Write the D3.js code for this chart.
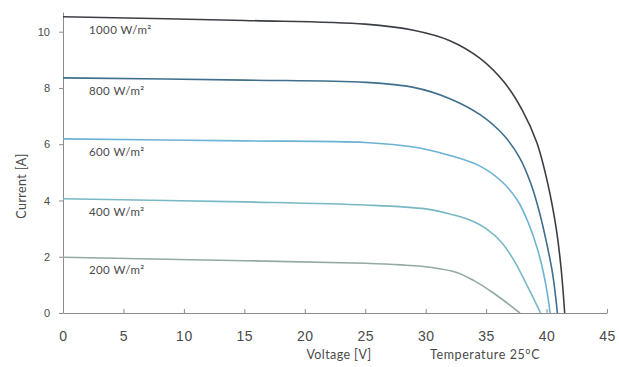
<!DOCTYPE html>
<html>
<head>
<meta charset="utf-8">
<script src="https://cdn.jsdelivr.net/npm/d3@7"></script>
<style>
  html, body { margin: 0; padding: 0; background: #fff; }
  svg { display: block; font-family: Lato, "Open Sans", sans-serif; }
</style>
</head>
<body>
<svg id="chart" width="619" height="367"></svg>
<script>
// ---- data ----
const xTicks = [0, 5, 10, 15, 20, 25, 30, 35, 40, 45];
const yTicks = [0, 2, 4, 6, 8, 10];

const irradiance = ["1000 W/m²", "800 W/m²", "600 W/m²", "400 W/m²", "200 W/m²"];

const voltage1000 = [0, 15, 25, 29, 32, 34.5, 36.5, 38, 39.2, 40.1, 40.8, 41.2, 41.5];
const current1000 = [10.53, 10.4, 10.27, 10.05, 9.68, 9.05, 8.2, 7.2, 6.05, 4.6, 3.0, 1.6, 0];

const voltage800 = [0, 15, 25, 29, 32, 34.5, 36.5, 37.8, 38.7, 39.4, 40.0, 40.5, 40.9];
const current800 = [8.36, 8.28, 8.2, 8.02, 7.62, 7.05, 6.3, 5.5, 4.6, 3.6, 2.5, 1.4, 0];

const voltage600 = [0, 15, 25, 29, 32, 34.5, 36.4, 37.6, 38.5, 39.3, 39.9, 40.3];
const current600 = [6.19, 6.12, 6.06, 5.9, 5.6, 5.22, 4.63, 4.0, 3.2, 2.2, 1.1, 0];

const voltage400 = [0, 15, 25, 30, 32, 33.5, 35, 36.3, 37.4, 38.3, 39, 39.5];
const current400 = [4.06, 3.95, 3.84, 3.7, 3.52, 3.33, 3.0, 2.5, 1.8, 1.05, 0.45, 0];

const voltage200 = [0, 15, 25, 28, 30.5, 32.5, 34, 35.3, 36.6, 37.8];
const current200 = [1.98, 1.86, 1.77, 1.71, 1.62, 1.45, 1.15, 0.8, 0.4, 0];

const seriesColors = ["#3b3f44", "#3f6f8c", "#6cb2d4", "#78b8c4", "#93aaa2"];

// ---- build series ----
const series = [
  {label: irradiance[0], v: voltage1000, i: current1000, color: seriesColors[0]},
  {label: irradiance[1], v: voltage800,  i: current800,  color: seriesColors[1]},
  {label: irradiance[2], v: voltage600,  i: current600,  color: seriesColors[2]},
  {label: irradiance[3], v: voltage400,  i: current400,  color: seriesColors[3]},
  {label: irradiance[4], v: voltage200,  i: current200,  color: seriesColors[4]}
].map(s => ({...s, pts: s.v.map((v, k) => [v, s.i[k]])}));

const svg = d3.select("#chart");
const x = d3.scaleLinear().domain([0, 45]).range([63, 607]);
const y = d3.scaleLinear().domain([0, 10.7]).range([313, 12]);

const textColor = "#4a4a4a";
const axisColor = "#8c8c8c";

// x axis
const gx = svg.append("g").attr("transform", `translate(0,${y(0)})`)
  .call(d3.axisBottom(x).tickValues(xTicks).tickSize(-4).tickPadding(18).tickSizeOuter(0));
gx.select(".domain").attr("stroke", axisColor);
gx.selectAll(".tick line").attr("stroke", axisColor);
gx.selectAll(".tick text").attr("fill", textColor).attr("font-size", 14).style("letter-spacing", "0.5px");

// y axis
const gy = svg.append("g").attr("transform", `translate(${x(0)},0)`)
  .call(d3.axisLeft(y).tickValues(yTicks).tickSize(4).tickPadding(9).tickSizeOuter(0));
gy.select(".domain").attr("stroke", axisColor);
gy.selectAll(".tick line").attr("stroke", axisColor);
gy.selectAll(".tick text").attr("fill", textColor).attr("font-size", 11);

// curves
const line = d3.line().x(d => x(d[0])).y(d => y(d[1])).curve(d3.curveCatmullRom.alpha(0.5));
svg.append("g").selectAll("path").data(series).join("path")
  .attr("d", d => line(d.pts))
  .attr("fill", "none")
  .attr("stroke", d => d.color)
  .attr("stroke-width", 1.6);

// curve labels
svg.append("g").selectAll("text").data(series).join("text")
  .attr("x", x(2.15))
  .attr("y", d => y(d.i[0]) + 17)
  .attr("fill", textColor)
  .attr("font-size", 11.5)
  .style("letter-spacing", "0.4px")
  .text(d => d.label);

// axis titles
svg.append("text").attr("x", 339).attr("y", 359).attr("text-anchor", "middle")
  .attr("fill", textColor).attr("font-size", 12.5).style("letter-spacing", "0.4px").text("Voltage [V]");
svg.append("text").attr("x", 430).attr("y", 359)
  .attr("fill", textColor).attr("font-size", 12.5).style("letter-spacing", "0.6px").text("Temperature 25°C");
svg.append("text").attr("transform", "translate(26,186) rotate(-90)").attr("text-anchor", "middle")
  .attr("fill", textColor).attr("font-size", 12.5).style("letter-spacing", "0.4px").text("Current [A]");
</script>
</body>
</html>
